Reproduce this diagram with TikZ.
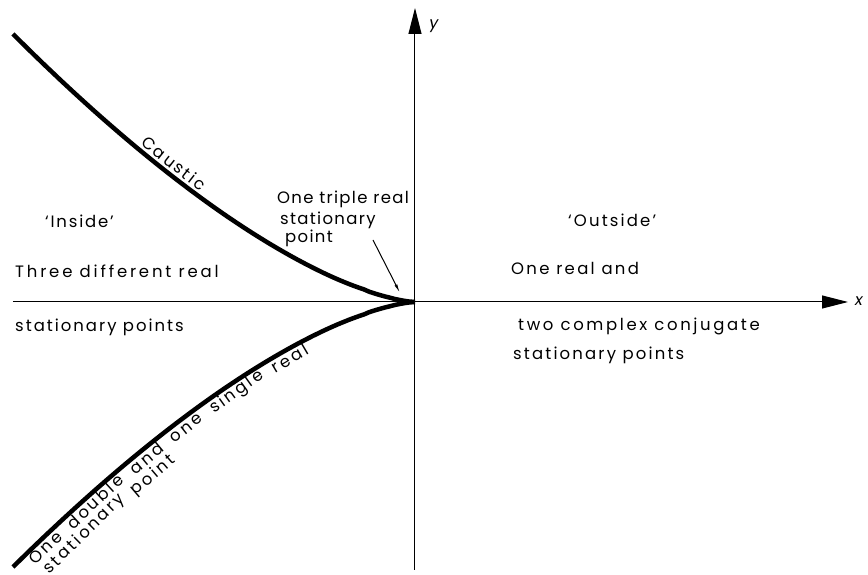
\documentclass[tikz,border=0pt]{standalone}
\usepackage{fontspec}
\setmainfont{Poppins}[LetterSpace=16]
\usetikzlibrary{arrows.meta,decorations.markings}
\newcommand\lf{\fontsize{16.5}{18}\selectfont}
\newcommand\ls[1]{\addfontfeature{LetterSpace=#1}}
\newlength\lenA \newlength\lenB \newlength\lenC \newlength\lenD \newlength\lenE \newlength\lenS
\newlength\posA \newlength\posB \newlength\posC \newlength\posD \newlength\posE \newlength\posF
\newlength\posG \newlength\posH \newlength\wgap
\begin{document}
\settowidth\lenA{\rmfamily\lf One}%
\settowidth\lenB{\rmfamily\lf double}%
\settowidth\lenC{\rmfamily\lf and}%
\settowidth\lenD{\rmfamily\lf one}%
\settowidth\lenE{\rmfamily\lf single}%
\settowidth\lenS{\rmfamily\lf stationary}%
\setlength\wgap{13pt}%
\setlength\posA{17pt}%
\setlength\posB{\dimexpr\posA+\lenA+\wgap\relax}%
\setlength\posC{\dimexpr\posB+\lenB+\wgap\relax}%
\setlength\posD{\dimexpr\posC+\lenC+\wgap\relax}%
\setlength\posE{\dimexpr\posD+\lenD+\wgap\relax}%
\setlength\posF{\dimexpr\posE+\lenE+\wgap\relax}%
\setlength\posG{20pt}%
\setlength\posH{\dimexpr\posG+\lenS+12pt\relax}%
\edef\pA{\the\posA}\edef\pB{\the\posB}\edef\pC{\the\posC}\edef\pD{\the\posD}%
\edef\pE{\the\posE}\edef\pF{\the\posF}\edef\pG{\the\posG}\edef\pH{\the\posH}%
\begin{tikzpicture}[x=1pt,y=1pt,
  axis/.style={line width=1pt},
  caustic/.style={line width=4.5pt},
  lab/.style={font=\lf, inner sep=0pt, anchor=base west},
  along/.style={font=\lf, inner sep=0pt, anchor=base west, transform shape},
  tip/.style={-{Triangle[length=26pt,width=13pt]}}]
\useasboundingbox (-415,-273) rectangle (453,302);
\coordinate (O) at (0,0);
\coordinate (xs) at (-402,0);
\coordinate (xe) at (433,0);
\coordinate (ys) at (0,-268);
\coordinate (ye) at (0,294);
\draw[axis,tip] (xs) -- (xe);
\draw[axis,tip] (ys) -- (ye);
\node[font=\fontsize{16}{18}\selectfont\itshape] (xl) at (444,1) {x};
\node[font=\fontsize{16}{18}\selectfont\itshape] (yl) at (19,276) {y};
% upper caustic
\draw[caustic] plot[domain=402:0, samples=80] ({-\x}, {268*(\x/402)^1.5});
\path[decorate, decoration={markings,
  mark=at position 207pt with {\node[along,anchor=base,font=\lf\ls{13}] (caus) at (0,5) {Caustic};}}]
  plot[domain=402:0, samples=80] ({-\x}, {268*(\x/402)^1.5});
% lower caustic
\draw[caustic] plot[domain=402:0, samples=80] ({-\x}, {-265*(\x/402)^1.5});
\path[decorate, decoration={markings,
  mark=at position \pA with {\node[along] (w1) at (0,-15) {One};},
  mark=at position \pB with {\node[along] (w2) at (0,-15) {double};},
  mark=at position \pC with {\node[along] (w3) at (0,-15) {and};},
  mark=at position \pD with {\node[along] (w4) at (0,-15) {one};},
  mark=at position \pE with {\node[along] (w5) at (0,-15) {single};},
  mark=at position \pF with {\node[along] (w6) at (0,-15) {real};}}]
  plot[domain=402:0, samples=80] ({-\x}, {-265*(\x/402)^1.5});
\path[decorate, decoration={markings,
  mark=at position \pG with {\node[along] (w7) at (0,-31) {stationary};},
  mark=at position \pH with {\node[along] (w8) at (0,-31) {point};}}]
  plot[domain=402:0, samples=80] ({-\x}, {-265*(\x/402)^1.5});
% labels
\node[lab,font=\lf\ls{11}] (inside) at (-370,74) {‘Inside’};
\node[lab,font=\lf\ls{17}] (three) at (-400,24) {Three different real};
\node[lab,font=\lf\ls{12}] (statl) at (-400,-30) {stationary points};
\node[lab,font=\lf\ls{8}] (t1) at (-138,98) {One triple real};
\node[lab,font=\lf\ls{8}] (t2) at (-135,77) {stationary};
\node[lab,font=\lf\ls{8}] (t3) at (-130,59) {point};
\node[lab,font=\lf\ls{13}] (outside) at (153,75) {‘Outside’};
\node[lab,font=\lf\ls{14}] (r1) at (96,27) {One real and};
\node[lab] (r2) at (103,-29) {two complex conjugate};
\node[lab,font=\lf\ls{13}] (r3) at (98,-58) {stationary points};
\coordinate (ps) at (-42,62);
\coordinate (pe) at (-15,9);
\draw[line width=1pt,-{Latex[length=9pt,width=3pt]}] (ps) -- (pe);
\end{tikzpicture}
\end{document}
